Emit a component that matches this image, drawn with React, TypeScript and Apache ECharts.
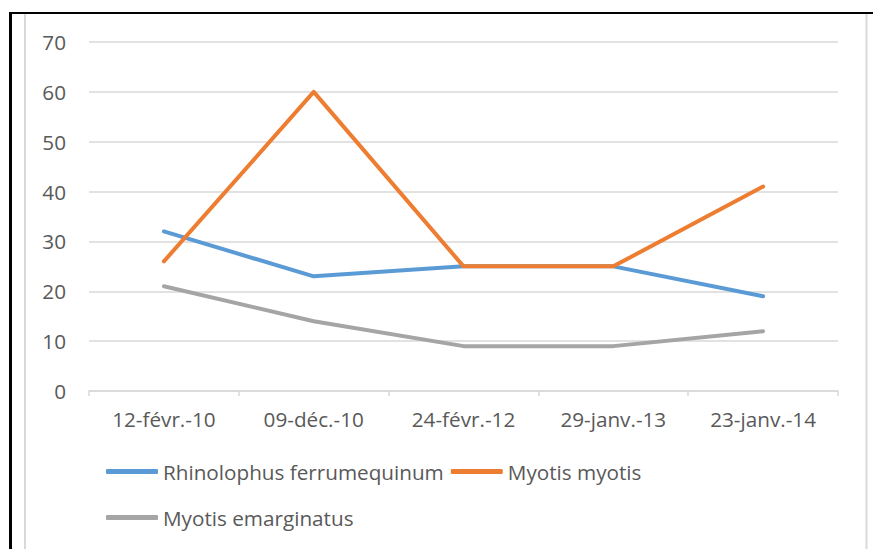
import React, { useEffect, useRef } from "react";
import * as echarts from "echarts";

const categories = ["12-févr.-10", "09-déc.-10", "24-févr.-12", "29-janv.-13", "23-janv.-14"];
const rhinolophus = [32, 23, 25, 25, 19];
const myotisMyotis = [26, 60, 25, 25, 41];
const myotisEmarginatus = [21, 14, 9, 9, 12];
const seriesNames = ["Rhinolophus ferrumequinum", "Myotis myotis", "Myotis emarginatus"];
const colors = ["#5b9bd5", "#ed7d31", "#a5a5a5"];

const FONT = "'Open Sans', sans-serif";
const FS = 20.7;

export default function App() {
  const ref = useRef<HTMLDivElement>(null);
  useEffect(() => {
    document.body.style.margin = "0";
    const chart = echarts.init(ref.current!, null, { renderer: "svg" });
    const mk = (name: string, data: number[], color: string) => ({
      name,
      type: "line",
      data,
      symbol: "none",
      lineStyle: { width: 4, color, cap: "round", join: "round" },
      itemStyle: { color },
    });
    const legendBase = {
      left: 106,
      padding: 0,
      itemWidth: 52,
      itemHeight: 5,
      itemGap: 7,
      icon: "roundRect",
      textStyle: { fontFamily: FONT, fontSize: FS, color: "#595959" },
    };
    chart.setOption({
      animation: false,
      backgroundColor: "#ffffff",
      grid: { left: 89, right: 35, top: 42, bottom: 158, containLabel: false },
      xAxis: {
        type: "category",
        data: categories,
        boundaryGap: true,
        axisLine: { lineStyle: { color: "#d9d9d9", width: 1.5 } },
        axisTick: { show: true, length: 5, lineStyle: { color: "#d9d9d9", width: 1.5 } },
        axisLabel: { fontFamily: FONT, fontSize: FS, color: "#595959", margin: 17 },
      },
      yAxis: {
        type: "value",
        min: 0,
        max: 70,
        interval: 10,
        axisLine: { show: false },
        axisTick: { show: false },
        splitLine: { lineStyle: { color: "#d9d9d9", width: 1.5 } },
        axisLabel: { fontFamily: FONT, fontSize: FS, color: "#595959", margin: 23 },
      },
      legend: [
        { ...legendBase, top: 461, data: [seriesNames[0], seriesNames[1]] },
        { ...legendBase, top: 507, data: [seriesNames[2]] },
      ],
      series: [
        mk(seriesNames[0], rhinolophus, colors[0]),
        mk(seriesNames[1], myotisMyotis, colors[1]),
        mk(seriesNames[2], myotisEmarginatus, colors[2]),
      ],
      graphic: [
        { type: "line", shape: { x1: 25, y1: 14, x2: 25, y2: 549 }, style: { stroke: "#d9d9d9", lineWidth: 2 } },
        { type: "line", shape: { x1: 866.5, y1: 14, x2: 866.5, y2: 549 }, style: { stroke: "#d9d9d9", lineWidth: 2 } },
        { type: "line", shape: { x1: 9, y1: 13, x2: 873, y2: 13 }, style: { stroke: "#000000", lineWidth: 2 } },
        { type: "line", shape: { x1: 10.5, y1: 12, x2: 10.5, y2: 549 }, style: { stroke: "#000000", lineWidth: 3 } },
      ],
    });
    return () => chart.dispose();
  }, []);
  return <div ref={ref} style={{ position: "fixed", left: 0, top: 0, width: 873, height: 549 }} />;
}
